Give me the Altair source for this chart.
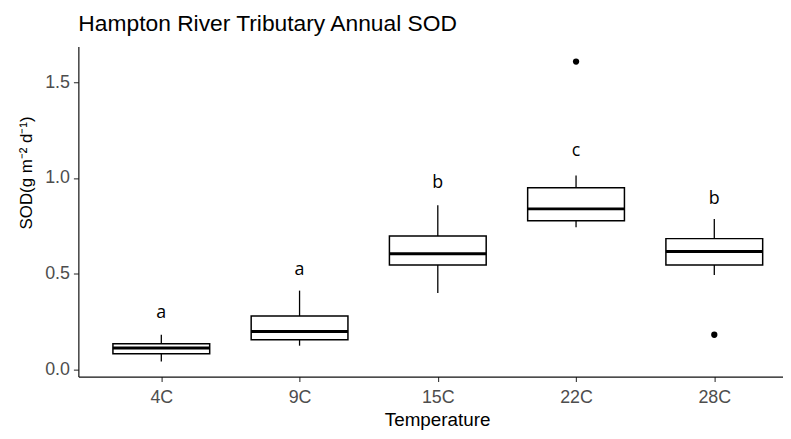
import altair as alt
import pandas as pd

categories = ["4C", "9C", "15C", "22C", "28C"]
whisker_lo = [0.043, 0.126, 0.401, 0.743, 0.495]
q1 = [0.084, 0.157, 0.546, 0.777, 0.546]
median = [0.114, 0.200, 0.605, 0.839, 0.617]
q3 = [0.136, 0.281, 0.698, 0.949, 0.684]
whisker_hi = [0.183, 0.413, 0.858, 1.013, 0.786]
letters = ["a", "a", "b", "c", "b"]
letter_y = [0.298, 0.522, 0.973, 1.142, 0.891]
outlier_cat = ["22C", "28C"]
outlier_val = [1.607, 0.183]

pos = {c: i + 1 for i, c in enumerate(categories)}
half = 0.35

box = pd.DataFrame({
    "cat": categories,
    "pos": [pos[c] for c in categories],
    "left": [pos[c] - half for c in categories],
    "right": [pos[c] + half for c in categories],
    "lo": whisker_lo, "q1": q1, "med": median, "q3": q3, "hi": whisker_hi,
    "letter": letters, "ly": letter_y,
})
outs = pd.DataFrame({"pos": [pos[c] for c in outlier_cat], "val": outlier_val})

xscale = alt.Scale(domain=[0.4, 5.497], nice=False, zero=False)
yscale = alt.Scale(domain=[-0.035, 1.685], nice=False, zero=False)

label_expr = "['4C','9C','15C','22C','28C'][datum.value - 1]"

xaxis = alt.Axis(values=[1, 2, 3, 4, 5], labelExpr=label_expr, title="Temperature",
                 grid=False, titleX=362, labelPadding=7, titlePadding=4, titleFontSize=19)
yaxis = alt.Axis(values=[0, 0.5, 1.0, 1.5], format=".1f", title="SOD(g m⁻² d⁻¹)", grid=False,
                 titleY=127, labelPadding=4, titlePadding=9, titleFontSize=17)

base = alt.Chart(box)

whisk = base.mark_rule(color="black", strokeWidth=1.3).encode(
    x=alt.X("pos:Q", scale=xscale, axis=xaxis),
    y=alt.Y("lo:Q", scale=yscale, axis=yaxis),
    y2="hi:Q",
)
rect = base.mark_rect(fill="white", stroke="black", strokeWidth=1.5).encode(
    x=alt.X("left:Q", scale=xscale), x2="right:Q",
    y=alt.Y("q1:Q", scale=yscale), y2="q3:Q",
)
med = base.mark_rule(color="black", strokeWidth=3).encode(
    x=alt.X("left:Q", scale=xscale), x2="right:Q",
    y=alt.Y("med:Q", scale=yscale),
)
txt = base.mark_text(font="Open Sans", fontSize=18, color="black", baseline="middle").encode(
    x=alt.X("pos:Q", scale=xscale),
    y=alt.Y("ly:Q", scale=yscale),
    text="letter:N",
)
pts = alt.Chart(outs).mark_point(filled=True, color="black", size=40, opacity=1).encode(
    x=alt.X("pos:Q", scale=xscale),
    y=alt.Y("val:Q", scale=yscale),
)

chart = alt.layer(whisk, rect, med, txt, pts).properties(
    width=711, height=333,
    title=alt.TitleParams("Hampton River Tributary Annual SOD", anchor="start", frame="group",
                          font="Liberation Sans", fontSize=23, fontWeight="normal",
                          color="black", offset=11),
    autosize=alt.AutoSizeParams(type="none"),
    padding={"left": 71, "top": 37, "right": 0, "bottom": 53},
).configure_view(stroke=None).configure_axis(
    domainColor="#111111", domainWidth=1.2, tickColor="#333333", tickSize=5, tickWidth=1.1,
    labelFont="Liberation Sans", labelFontSize=18, labelColor="#4d4d4d",
    titleFont="Liberation Sans", titleFontWeight="normal", titleColor="black",
)

chart.save("out.html", embed_options={"renderer": "svg", "actions": False})
